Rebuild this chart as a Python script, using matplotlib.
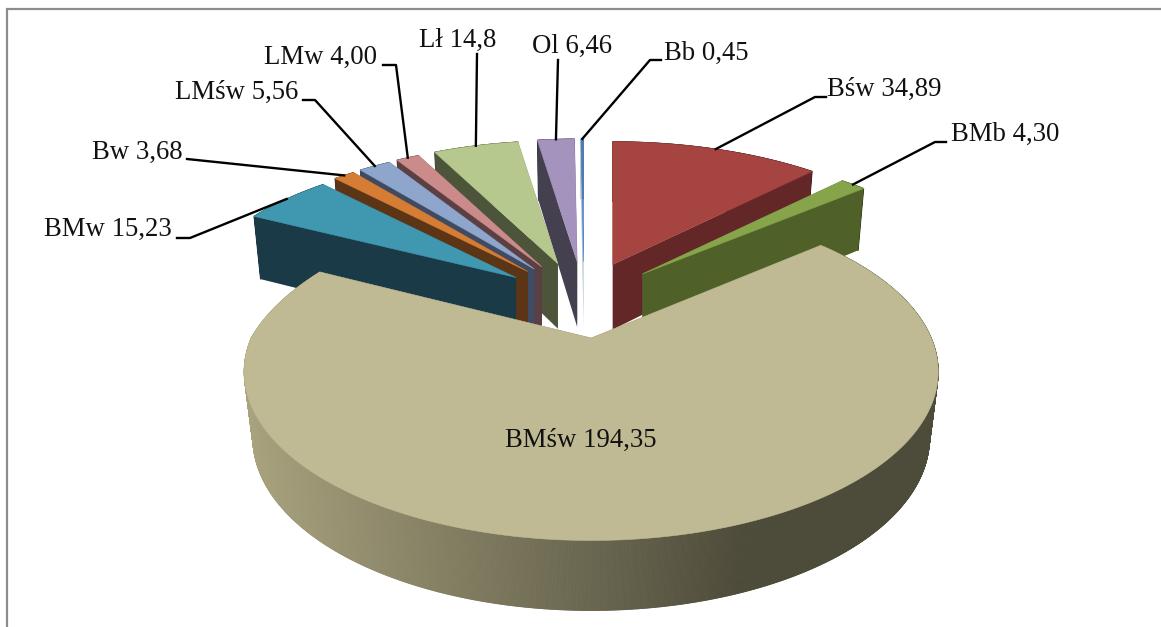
import numpy as np
import matplotlib
matplotlib.use("Agg")
import matplotlib.pyplot as plt
from matplotlib.collections import PolyCollection
from matplotlib.patches import Polygon
from matplotlib.colors import to_rgb

# Forest site types, clockwise from twelve o'clock
categories = ["Bśw", "BMb", "BMśw", "BMw", "Bw", "LMśw", "LMw", "Lł", "Ol", "Bb"]
values = [34.89, 4.30, 194.35, 15.23, 3.68, 5.56, 4.00, 14.8, 6.46, 0.45]
value_labels = ["34,89", "4,30", "194,35", "15,23", "3,68", "5,56", "4,00", "14,8", "6,46", "0,45"]
top_colors = ["#A64442", "#86A44A", "#BFBA93", "#4097B0", "#D67D35",
              "#8EA5CC", "#CC8B8B", "#B7C88F", "#A493BC", "#4A7EBB"]
wall_colors = ["#642727", "#4F6128", "#A8A27E", "#1A3A47", "#5B3516",
               "#3E4B63", "#5C3F42", "#4C553A", "#45404F", "#A9C0DC"]

# label text position (x, y, ha) and the end of the leader line next to it
label_x = [827, 951, 581, 172, 183, 298, 377, 496, 612, 664]
label_y = [89, 134, 440, 229, 152, 92, 57, 40, 46, 53]
label_ha = ["left", "left", "center", "right", "right", "right", "right", "right", "right", "left"]
leader_end = [[(815, 97), (826, 97)], [(935, 142), (946, 142)], None,
              [(190, 238), (177, 238)], [(187, 159)], [(315, 100), (303, 100)],
              [(396, 65), (383, 65)], [(477, 54)], [(558, 60)], [(650, 60), (661, 60)]]

# pie geometry in pixels
CX, CY = 581, 300
RX, RY = 336, 153
PERSPECTIVE = 0.245
EXPLODE = 0.25
LOWER_SCALE = 0.975
GRAD_LEFT, GRAD_RIGHT = 245, 938
# the front slice sits closer to the viewer and has its own ellipse
FRONT_RX, FRONT_RY, FRONT_PERSPECTIVE = 340, 162, 0.2
LEFT_SCALE = 0.965
LEFT_SHIFT = 3


def project(apex, angle, front=False, left=False, lower=False):
    px = np.sin(angle)
    py = -np.cos(angle)
    p = FRONT_PERSPECTIVE if front else PERSPECTIVE
    rx = FRONT_RX if front else RX
    ry = FRONT_RY if front else RY
    s = 1 / (1 - p * py)
    narrow = np.ones_like(px)
    if front:
        narrow = np.where((px < 0) & (py < 0), 1 + 0.07 * py, 1.0)
    elif left:
        narrow = LEFT_SCALE * narrow
    x = apex[0] + rx * px * s * narrow * (LOWER_SCALE if lower else 1)
    y = apex[1] + ry * py * s
    if lower:
        y = y + 65 + 5 * py
    return np.column_stack([np.atleast_1d(x), np.atleast_1d(y)])


def shaded(color, x):
    # side walls get darker from left to right
    t = np.clip((x - GRAD_LEFT) / (GRAD_RIGHT - GRAD_LEFT), 0, 1)
    dark = np.array(to_rgb(color)) * 0.46
    light = np.array(to_rgb(color))
    k = np.clip(t / 0.72, 0, 1)
    return light + (dark - light) * k


fig = plt.figure(figsize=(11.61, 6.27), dpi=100)
ax = fig.add_axes([0, 0, 1, 1])
ax.set_xlim(0, 1161)
ax.set_ylim(627, 0)
ax.axis("off")

ax.plot([7, 7, 1161], [627, 9, 9], color="#8C8C8C", lw=1.6, solid_joinstyle="miter", zorder=1)

edges = np.concatenate([[0], np.cumsum(values)]) / np.sum(values) * 2 * np.pi
mids = (edges[:-1] + edges[1:]) / 2
biggest = int(np.argmax(values))
is_left = [m > np.pi for m in mids]
apexes = [(CX + EXPLODE * RX * np.sin(m) + (LEFT_SHIFT if lf else 0), CY - EXPLODE * RY * np.cos(m))
          for m, lf in zip(mids, is_left)]

# back slices first, the largest one on top of everything
order = sorted(range(len(values)), key=lambda i: -np.cos(mids[i]))
order = [i for i in order if i != biggest] + [biggest]

z = 2
for i in order:
    apex = apexes[i]
    front = i == biggest
    angles = np.linspace(edges[i], edges[i + 1], max(int(values[i] * 8), 6))
    upper = project(apex, angles, front, is_left[i])
    lower = project(apex, angles, front, is_left[i], lower=True)

    # outer wall as thin vertical strips so it can carry the gradient
    quads = [[upper[j], upper[j + 1], lower[j + 1], lower[j]] for j in range(len(angles) - 1)]
    cols = [shaded(wall_colors[i], (upper[j][0] + upper[j + 1][0]) / 2) for j in range(len(angles) - 1)]
    ax.add_collection(PolyCollection(quads, facecolors=cols, edgecolors=cols, linewidths=0.6, zorder=z))
    z += 1

    # radial walls, both drawn; the top face hides whichever looks away
    apex_top = np.array(apex)
    apex_low = apex_top + np.array([0, 65])
    for u, l in ((upper[0], lower[0]), (upper[-1], lower[-1])):
        ax.add_patch(Polygon([apex_top, u, l, apex_low], closed=True,
                             fc="#4E4B3A" if front else wall_colors[i], ec="none", zorder=z))
        z += 1

    top = np.vstack([apex_top, upper])
    ax.add_patch(Polygon(top, closed=True, fc=top_colors[i], ec=top_colors[i], lw=0.4, zorder=z))
    z += 1

# data labels and leader lines
for i, name in enumerate(categories):
    ax.text(label_x[i], label_y[i], f"{name} {value_labels[i]}", ha=label_ha[i], va="center",
            fontsize=19.3, family="Liberation Serif", color="#111111", zorder=z + 1)
    if leader_end[i] is None:
        continue
    rim = project(apexes[i], mids[i], False, is_left[i])[0]
    pts = [rim] + leader_end[i]
    ax.plot([p[0] for p in pts], [p[1] for p in pts], color="black", lw=1.7,
            solid_joinstyle="round", zorder=z)

fig.savefig("out.png", dpi=100, facecolor="white")
